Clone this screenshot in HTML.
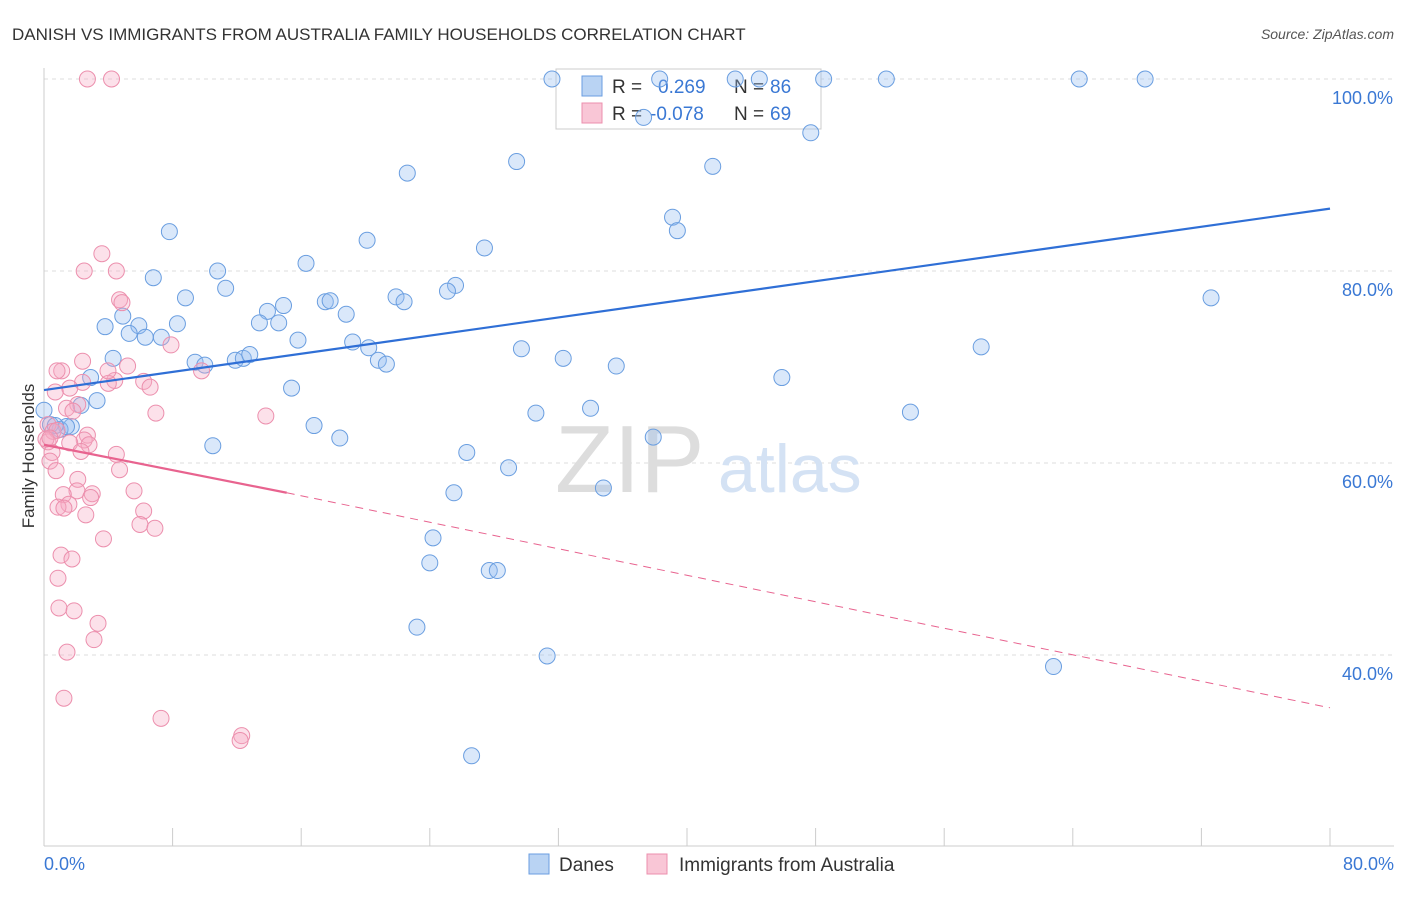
<!DOCTYPE html>
<html><head><meta charset="utf-8"><style>
body{margin:0;background:#fff;font-family:"Liberation Sans",sans-serif;}
svg text{font-family:"Liberation Sans",sans-serif;}
</style></head><body>
<svg width="1406" height="892">
<text x="12" y="40" font-size="17" fill="#333">DANISH VS IMMIGRANTS FROM AUSTRALIA FAMILY HOUSEHOLDS CORRELATION CHART</text>
<text x="1394" y="39" font-size="14" fill="#555" font-style="italic" text-anchor="end">Source: ZipAtlas.com</text>
<g id="grid"></g>
<text x="555" y="492" font-size="96" fill="#ddd" font-family="Liberation Serif">ZIP</text>
<text x="718" y="492" font-size="68" fill="#d4e2f4">atlas</text>
<g>
<rect x="556" y="69" width="265" height="60" fill="#fff" stroke="#ccc"/>
<rect x="582" y="76" width="20" height="20" fill="#b9d3f3" stroke="#6a9ee0"/>
<rect x="582" y="103" width="20" height="20" fill="#f9c6d6" stroke="#ec8fad"/>
<text x="612" y="93" font-size="19" fill="#333">R = </text><text x="658" y="93" font-size="19" fill="#3a78d4">0.269</text>
<text x="734" y="93" font-size="19" fill="#333">N = </text><text x="770" y="93" font-size="19" fill="#3a78d4">86</text>
<text x="612" y="120" font-size="19" fill="#333">R = </text><text x="650" y="120" font-size="19" fill="#3a78d4">-0.078</text>
<text x="734" y="120" font-size="19" fill="#333">N = </text><text x="770" y="120" font-size="19" fill="#3a78d4">69</text>
</g>
<g id="marks"></g>
<text x="34" y="456" font-size="17" fill="#333" transform="rotate(-90 34 456)" text-anchor="middle">Family Households</text>
<text x="44" y="870" font-size="18" fill="#3a78d4">0.0%</text>
<text x="1394" y="870" font-size="18" fill="#3a78d4" text-anchor="end">80.0%</text>
<g>
<rect x="529" y="854" width="20" height="20" fill="#b9d3f3" stroke="#6a9ee0"/>
<text x="559" y="871" font-size="19" fill="#333">Danes</text>
<rect x="647" y="854" width="20" height="20" fill="#f9c6d6" stroke="#ec8fad"/>
<text x="679" y="871" font-size="19" fill="#333">Immigrants from Australia</text>
</g>
</svg>
<script>
const yTicks=[100,80,60,40];
const yTickLabels=["100.0%","80.0%","60.0%","40.0%"];
const danesX=[31.6,38.3,43.0,44.5,48.5,52.4,64.4,68.5,37.3,47.7,29.4,41.6,22.6,39.1,39.4,7.8,20.1,27.4,10.8,6.8,16.3,11.3,8.8,25.6,25.1,21.9,22.4,72.6,17.5,17.8,13.9,14.9,18.8,4.9,13.4,14.6,8.3,3.8,5.9,5.3,6.3,7.3,15.8,19.2,20.2,29.7,58.3,4.3,9.4,10.0,11.9,12.4,12.8,20.8,21.3,32.3,35.6,45.9,2.9,15.4,3.3,2.3,30.6,34.0,53.9,1.7,1.0,1.4,0.4,16.8,37.9,18.4,10.5,26.3,28.9,34.8,25.5,24.2,24.0,27.7,28.2,23.2,31.3,62.8,26.6,0.0,0.7];
const danesY=[100,100,100,100,100,100,100,100,96.0,94.4,91.4,90.9,90.2,85.6,84.2,84.1,83.2,82.4,80.0,79.3,80.8,78.2,77.2,78.5,77.9,77.3,76.8,77.2,76.8,76.9,75.8,76.4,75.5,75.3,74.6,74.6,74.5,74.2,74.3,73.5,73.1,73.1,72.8,72.6,72.0,71.9,72.1,70.9,70.5,70.2,70.7,70.9,71.3,70.7,70.3,70.9,70.1,68.9,68.9,67.8,66.5,66.0,65.2,65.7,65.3,63.8,63.5,63.8,64.0,63.9,62.7,62.6,61.8,61.1,59.5,57.4,56.9,52.2,49.6,48.8,48.8,42.9,39.9,38.8,29.5,65.5,63.9];
const ausX=[2.7,4.2,3.6,2.5,4.5,4.7,4.85,7.9,2.4,5.2,1.1,9.8,6.2,4.4,2.4,1.6,0.7,6.6,4.0,2.1,1.4,1.8,6.96,13.8,0.25,0.56,0.81,2.7,2.5,2.8,1.6,4.5,2.3,0.25,0.5,0.37,4.7,2.1,2.05,5.6,1.2,3.0,2.9,1.55,0.87,1.24,2.6,6.2,5.97,6.9,3.7,1.06,1.74,0.87,0.93,1.87,3.36,3.11,1.43,1.24,7.28,12.3,12.2,0.12,0.37,0.75,3.98,0.81];
const ausY=[100,100,81.8,80.0,80.0,77.0,76.7,72.3,70.6,70.1,69.6,69.6,68.5,68.6,68.4,67.8,67.4,67.9,68.3,66.1,65.7,65.4,65.2,64.9,64.0,63.3,63.4,62.9,62.4,61.9,62.1,60.9,61.2,62.2,61.1,60.2,59.3,58.3,57.1,57.1,56.7,56.8,56.4,55.7,55.4,55.3,54.6,55.0,53.6,53.2,52.1,50.4,50.0,48.0,44.9,44.6,43.3,41.6,40.3,35.5,33.4,31.6,31.1,62.5,62.6,59.2,69.6,69.6];
const danesTrend=[0,67.6,80,86.5];
const ausTrend=[0,61.9,15.1,56.9,80,34.5];
const X0=44,X1=1330,Y100=79,PX20=192;
const xs=v=>X0+(X1-X0)*v/80;
const ys=v=>Y100+(100-v)*PX20/20;
const NS="http://www.w3.org/2000/svg";
const grid=document.getElementById('grid'),marks=document.getElementById('marks');
function mk(tag,attrs,parent){const e=document.createElementNS(NS,tag);for(const k in attrs)e.setAttribute(k,attrs[k]);parent.appendChild(e);return e;}
yTicks.forEach((t,i)=>{
 const l=mk('line',{x1:44,x2:1394,y1:ys(t),y2:ys(t),stroke:'#ddd','stroke-dasharray':'4,4'},grid);
 
 
 const tx=mk('text',{x:1393,y:ys(t)+25,'font-size':18,fill:'#3a78d4','text-anchor':'end'},grid);
 tx.textContent=yTickLabels[i];
 
 
});
const ax=mk('line',{x1:44,x2:44,y1:68,y2:846,stroke:'#ccc'},grid);


const bx=mk('line',{x1:44,x2:1394,y1:846,y2:846,stroke:'#ccc'},grid);


for(let i=0;i<=10;i++){const t=mk('line',{x1:xs(i*8),x2:xs(i*8),y1:828,y2:846,stroke:'#ccc'},grid);
 
 }
danesX.forEach((x,i)=>{const c=mk('circle',{cx:xs(x),cy:ys(danesY[i]),r:8,fill:'rgba(150,190,240,0.35)',stroke:'#6a9ee0','stroke-width':1},marks);
 
 });
ausX.forEach((x,i)=>{const c=mk('circle',{cx:xs(x),cy:ys(ausY[i]),r:8,fill:'rgba(245,170,195,0.35)',stroke:'#ec8fad','stroke-width':1},marks);
 
 });
const tl=mk('line',{x1:xs(danesTrend[0]),y1:ys(danesTrend[1]),x2:xs(danesTrend[2]),y2:ys(danesTrend[3]),stroke:'#2f6fd6','stroke-width':2.2},marks);


const pl=mk('line',{x1:xs(ausTrend[0]),y1:ys(ausTrend[1]),x2:xs(ausTrend[2]),y2:ys(ausTrend[3]),stroke:'#e8638f','stroke-width':2.2},marks);


const pd=mk('line',{x1:xs(ausTrend[2]),y1:ys(ausTrend[3]),x2:xs(ausTrend[4]),y2:ys(ausTrend[5]),stroke:'#e8638f','stroke-width':1,'stroke-dasharray':'8,6'},marks);


</script>
</body></html>
